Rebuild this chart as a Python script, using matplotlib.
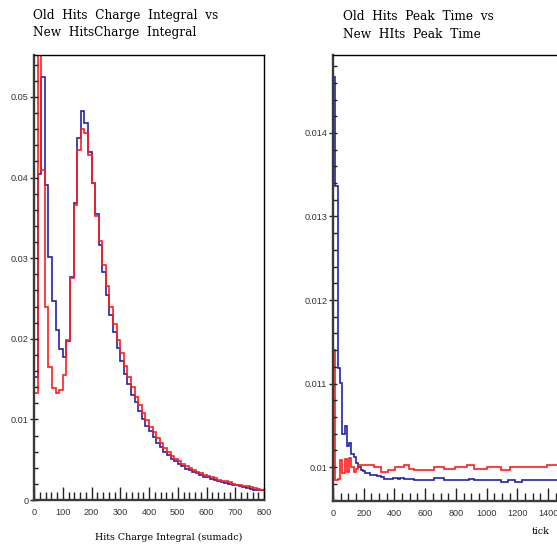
import numpy as np
import matplotlib
matplotlib.use("Agg")
import matplotlib.pyplot as plt
from matplotlib.ticker import MultipleLocator, FuncFormatter

# charge integral histograms, 64 bins of 12.5 sumadc from 0 to 800
charge_edges = np.linspace(0, 800, 65)
charge_old = [
    0.0152, 0.0404, 0.0525, 0.0391, 0.0302, 0.0247, 0.0211, 0.0187,
    0.0177, 0.0197, 0.0277, 0.0368, 0.0449, 0.0482, 0.0468, 0.0432,
    0.0393, 0.0355, 0.0316, 0.0283, 0.0254, 0.0229, 0.0209, 0.0188,
    0.0172, 0.0156, 0.0144, 0.0130, 0.0122, 0.0111, 0.0101, 0.0092,
    0.0085, 0.0078, 0.0071, 0.0066, 0.0060, 0.0056, 0.0051, 0.0048,
    0.0045, 0.0042, 0.0039, 0.0037, 0.0035, 0.0033, 0.0031, 0.0029,
    0.0028, 0.0026, 0.0025, 0.0024, 0.0022, 0.0021, 0.0020, 0.0019,
    0.0018, 0.0017, 0.0016, 0.0015, 0.0014, 0.0013, 0.0012, 0.0012,
]
charge_new = [
    0.0133, 0.0620, 0.0409, 0.0240, 0.0165, 0.0139, 0.0133, 0.0136,
    0.0155, 0.0199, 0.0275, 0.0366, 0.0434, 0.0460, 0.0455, 0.0428,
    0.0393, 0.0352, 0.0321, 0.0291, 0.0265, 0.0240, 0.0218, 0.0199,
    0.0182, 0.0166, 0.0152, 0.0140, 0.0128, 0.0118, 0.0108, 0.0099,
    0.0091, 0.0084, 0.0077, 0.0071, 0.0065, 0.0060, 0.0055, 0.0051,
    0.0048, 0.0045, 0.0042, 0.0040, 0.0037, 0.0035, 0.0033, 0.0031,
    0.0030, 0.0028, 0.0027, 0.0025, 0.0024, 0.0023, 0.0022, 0.0020,
    0.0019, 0.0018, 0.0017, 0.0017, 0.0016, 0.0015, 0.0014, 0.0013,
]

# peak time histograms, 100 bins of 15 ticks from 0 to 1500
time_edges = np.linspace(0, 1500, 101)
time_old = [
    0.01467, 0.01336, 0.01119, 0.01101, 0.01040, 0.01049, 0.01025, 0.01029,
    0.01015, 0.01012, 0.01005, 0.01000, 0.00997, 0.00995, 0.00993, 0.00993,
    0.00990, 0.00990, 0.00990, 0.00989, 0.00989, 0.00988, 0.00986, 0.00986,
    0.00986, 0.00986, 0.00987, 0.00987, 0.00986, 0.00987, 0.00987, 0.00986,
    0.00986, 0.00986, 0.00986, 0.00985, 0.00985, 0.00985, 0.00984, 0.00984,
    0.00984, 0.00984, 0.00984, 0.00984, 0.00987, 0.00987, 0.00987, 0.00987,
    0.00984, 0.00984, 0.00984, 0.00984, 0.00984, 0.00984, 0.00984, 0.00984,
    0.00984, 0.00984, 0.00984, 0.00986, 0.00986, 0.00984, 0.00984, 0.00984,
    0.00984, 0.00984, 0.00984, 0.00984, 0.00984, 0.00984, 0.00984, 0.00984,
    0.00984, 0.00982, 0.00982, 0.00982, 0.00984, 0.00984, 0.00984, 0.00982,
    0.00982, 0.00982, 0.00984, 0.00984, 0.00984, 0.00984, 0.00984, 0.00984,
    0.00984, 0.00984, 0.00984, 0.00984, 0.00984, 0.00984, 0.00984, 0.00984,
    0.00984, 0.00984, 0.00984, 0.00984,
]
time_new = [
    0.01140, 0.00984, 0.00986, 0.01008, 0.00993, 0.01009, 0.00994, 0.01011,
    0.01000, 0.00994, 0.00998, 0.01002, 0.01002, 0.01002, 0.01003, 0.01003,
    0.01003, 0.01002, 0.01000, 0.01000, 0.01000, 0.00994, 0.00994, 0.00994,
    0.00997, 0.00997, 0.00997, 0.01000, 0.01000, 0.01000, 0.01000, 0.01002,
    0.01002, 0.00998, 0.00998, 0.00997, 0.00997, 0.00997, 0.00996, 0.00996,
    0.00996, 0.00996, 0.00996, 0.00996, 0.01000, 0.01000, 0.01000, 0.01000,
    0.00998, 0.00998, 0.00998, 0.00998, 0.00998, 0.01000, 0.01000, 0.01000,
    0.01000, 0.01000, 0.01003, 0.01003, 0.01003, 0.00998, 0.00998, 0.00998,
    0.00998, 0.00998, 0.00998, 0.01000, 0.01000, 0.01000, 0.01000, 0.01000,
    0.01000, 0.00997, 0.00997, 0.00997, 0.00997, 0.01000, 0.01000, 0.01000,
    0.01000, 0.01000, 0.01000, 0.01000, 0.01000, 0.01000, 0.01000, 0.01000,
    0.01000, 0.01000, 0.01000, 0.01000, 0.01000, 0.01002, 0.01002, 0.01002,
    0.01002, 0.01002, 0.01000, 0.01000,
]

W, H = 557, 548
OLD_COLOR = "#2323a8"
NEW_COLOR = "#ff1e1e"
SERIF = "DejaVu Serif"


def style_axes(ax, xmaj, xmin, ymaj, ymin):
    for side in ("left", "bottom"):
        ax.spines[side].set_linewidth(1.7)
        ax.spines[side].set_color("#3a3a3a")
    for side in ("top", "right"):
        ax.spines[side].set_linewidth(1.0)
        ax.spines[side].set_color("black")
    ax.xaxis.set_major_locator(MultipleLocator(xmaj))
    ax.xaxis.set_minor_locator(MultipleLocator(xmin))
    ax.yaxis.set_major_locator(MultipleLocator(ymaj))
    ax.yaxis.set_minor_locator(MultipleLocator(ymin))
    ax.tick_params(axis="x", which="major", direction="in", length=9.6,
                   width=1.0, color="#222222", pad=6)
    ax.tick_params(axis="x", which="minor", direction="in", length=5.6,
                   width=1.0, color="#222222")
    ax.tick_params(axis="y", which="major", direction="inout", length=6,
                   width=1.0, color="#222222", pad=1)
    ax.tick_params(axis="y", which="minor", direction="in", length=2.6,
                   width=1.0, color="#222222")
    ax.tick_params(axis="both", which="major", labelsize=6.6,
                   labelcolor="#333333")
    ax.tick_params(top=False, right=False, which="both")
    fmt = FuncFormatter(lambda v, p: "%g" % round(v, 6))
    ax.xaxis.set_major_formatter(fmt)
    ax.yaxis.set_major_formatter(fmt)
    for lab in ax.get_xticklabels() + ax.get_yticklabels():
        lab.set_family("Liberation Sans")


fig = plt.figure(figsize=(W / 100, H / 100), dpi=100)

# left pad: charge integral
ax1 = fig.add_axes([34 / W, (H - 500) / H, 230 / W, 445 / H])
ax1.stairs(charge_old, charge_edges, baseline=None, color=OLD_COLOR, lw=1.2)
ax1.stairs(charge_new, charge_edges, baseline=None, color=NEW_COLOR, lw=1.2)
ax1.set_xlim(0, 800)
ax1.set_ylim(0, 0.0552)
style_axes(ax1, 100, 20, 0.01, 0.002)
ax1.set_xlabel("Hits Charge Integral (sumadc)", family=SERIF,
               fontsize=6.85, ha="right")
ax1.xaxis.set_label_coords(0.905, -0.074)

# right pad: peak time (frame runs past the canvas edge)
ax2 = fig.add_axes([333 / W, (H - 501) / H, 230.4 / W, 446 / H])
ax2.stairs(time_old, time_edges, baseline=None, color=OLD_COLOR, lw=1.2)
ax2.stairs(time_new, time_edges, baseline=None, color=NEW_COLOR, lw=1.2)
ax2.set_xlim(0, 1500)
ax2.set_ylim(0.009593, 0.014934)
style_axes(ax2, 200, 50, 0.001, 0.0002)
ax2.set_xlabel("tick", family=SERIF, fontsize=6.85, ha="right")
ax2.xaxis.set_label_coords(0.942, -0.059)

# pad titles, one line at a time
titles = [
    (33, 19, "Old  Hits  Charge  Integral  vs"),
    (33, 36, "New  HitsCharge  Integral"),
    (343, 20, "Old  Hits  Peak  Time  vs"),
    (343, 37.5, "New  HIts  Peak  Time"),
]
for x, y, line in titles:
    fig.text(x / W, 1 - y / H, line, family=SERIF, fontsize=8.7,
             va="baseline", ha="left")

fig.savefig("out.png", dpi=100)
